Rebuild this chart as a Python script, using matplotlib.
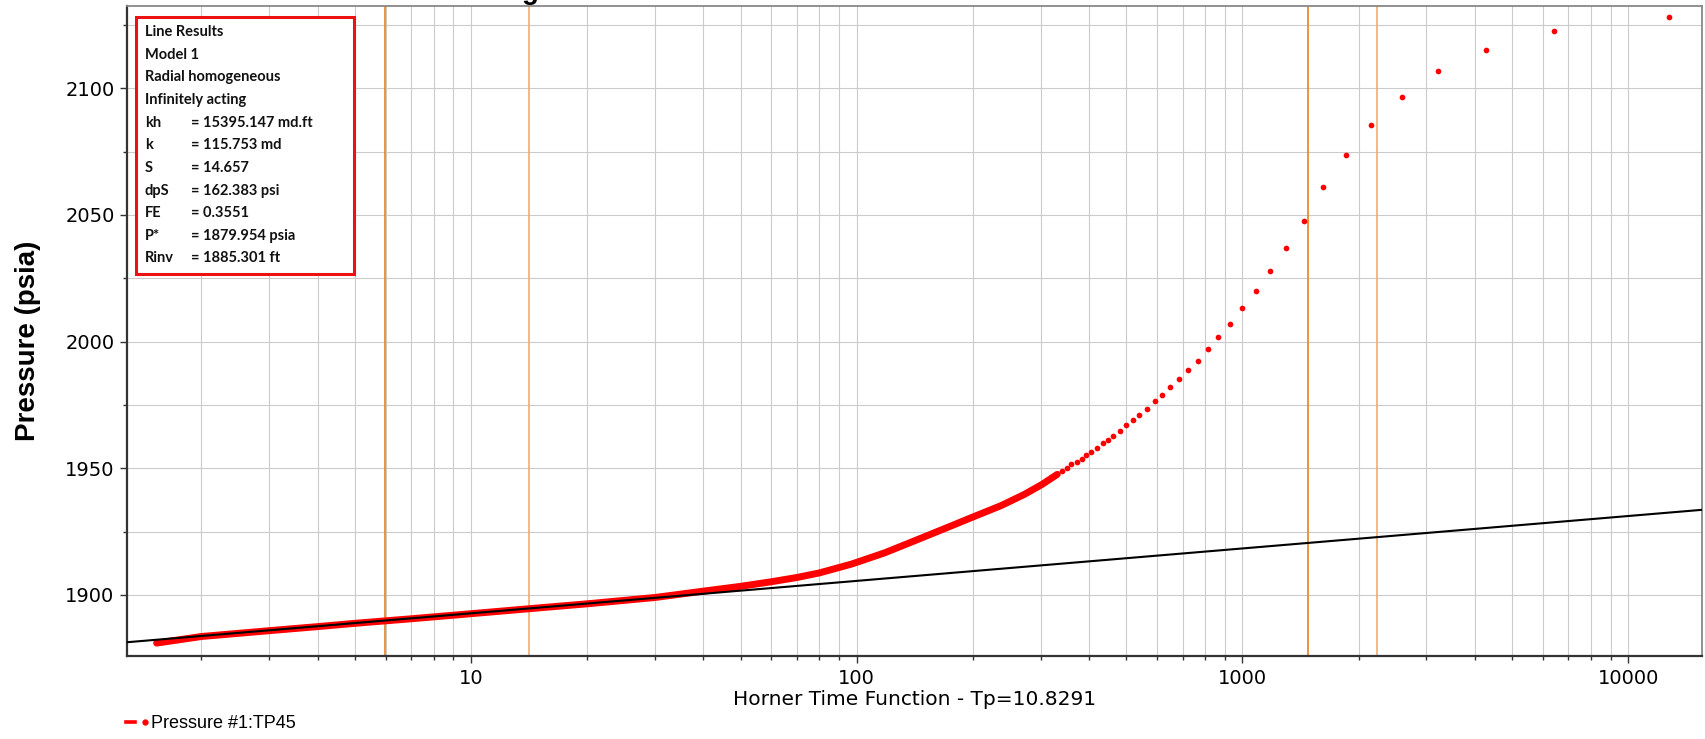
import numpy as np
import matplotlib
matplotlib.use("Agg")
import matplotlib.pyplot as plt
from matplotlib.patches import Rectangle
from matplotlib.lines import Line2D
from matplotlib.legend_handler import HandlerTuple
from matplotlib.ticker import MultipleLocator, LogLocator, NullFormatter, FuncFormatter

# dense early part of the build-up (large dt -> small Horner time)
dense_x = [1.53, 2, 3, 4, 5, 7, 10, 15, 20, 30, 40, 50, 60, 70, 80, 97,
           118, 144, 176, 201, 237, 272, 302, 331]
dense_p = [1881.0, 1883.6, 1885.9, 1887.5, 1888.8, 1890.6, 1892.6, 1894.9,
           1896.5, 1899.0, 1901.5, 1903.4, 1905.2, 1906.9, 1908.7, 1912.2,
           1916.6, 1921.9, 1927.3, 1930.9, 1935.3, 1939.7, 1943.6, 1947.6]

# individual points that can be told apart
sparse_x = [341, 350, 360, 372, 383, 393, 406, 420, 434, 448, 463, 481, 498,
            520, 540, 564, 592, 618, 649, 685, 721, 767, 815, 865, 927, 1000,
            1086, 1182, 1295, 1445, 1621, 1854, 2158, 2591, 3221, 4285, 6412,
            12750]
sparse_p = [1949.1, 1950.1, 1951.6, 1952.6, 1953.8, 1955.1, 1956.5, 1958.0,
            1959.8, 1961.2, 1962.8, 1964.9, 1966.9, 1969.1, 1971.1, 1973.5,
            1976.4, 1978.8, 1982.1, 1985.2, 1988.9, 1992.5, 1997.0, 2001.8,
            2007.1, 2013.2, 2020.0, 2028.0, 2037.0, 2047.5, 2060.9, 2073.5,
            2085.6, 2096.6, 2106.7, 2115.2, 2122.5, 2128.2]

# straight line (Horner fit)
p_star = 1879.954
slope = 12.8
line_x = [1.0, 20000.0]

# cursor lines
cursor_x = [5.97, 14.1, 1475, 2233]
cursor_col = ["#e8831c", "#f4ac68", "#e8831c", "#f4ac68"]

info_head = ["Line Results", "Model 1", "Radial homogeneous", "Infinitely acting"]
info_keys = ["kh", "k", "S", "dpS", "FE", "P*", "Rinv"]
info_vals = ["= 15395.147 md.ft", "= 115.753 md", "= 14.657", "= 162.383 psi",
             "= 0.3551", "= 1879.954 psia", "= 1885.301 ft"]

W, H = 1705, 739
fig = plt.figure(figsize=(W / 100, H / 100), dpi=100)
L, R, T, B = 127, 1702, 5.7, 656
ax = fig.add_axes([L / W, 1 - B / H, (R - L) / W, (B - T) / H])

ax.set_xscale("log")
ax.set_xlim(1.282, 15540)
ax.set_ylim(1875.9, 2132.6)

# grid
ax.yaxis.set_major_locator(MultipleLocator(50))
ax.yaxis.set_minor_locator(MultipleLocator(25))
ax.xaxis.set_major_locator(LogLocator(base=10))
ax.xaxis.set_minor_locator(LogLocator(base=10, subs=np.arange(2, 10)))
ax.xaxis.set_minor_formatter(NullFormatter())
ax.xaxis.set_major_formatter(FuncFormatter(lambda v, p: "%d" % v))
ax.grid(True, which="both", color="#cbcbcb", lw=0.8, zorder=0)
ax.set_axisbelow(True)

for x, c in zip(cursor_x, cursor_col):
    ax.axvline(x, color=c, lw=1.2, zorder=1)

ax.plot(dense_x, dense_p, color="red", lw=5.0, solid_capstyle="round",
        solid_joinstyle="round", zorder=3)
ax.plot(sparse_x, sparse_p, "o", color="red", ms=4.1, mec="none", zorder=3)

line_p = [p_star + slope * np.log10(v) for v in line_x]
ax.plot(line_x, line_p, color="black", lw=1.5, zorder=4)

# spines and ticks
for s in ["left", "bottom"]:
    ax.spines[s].set_color("#333333")
    ax.spines[s].set_linewidth(1.6)
for s in ["top", "right"]:
    ax.spines[s].set_color("#888888")
    ax.spines[s].set_linewidth(1.3)
ax.tick_params(axis="both", which="major", length=5, width=1, color="#333333",
               labelsize=14, pad=4)
ax.tick_params(axis="both", which="minor", length=3, width=1, color="#333333")
ax.tick_params(axis="x", which="both", top=False)
ax.tick_params(axis="y", which="both", right=False)

ax.set_xlabel("Horner Time Function - Tp=10.8291", fontsize=14.5, labelpad=2)
ax.set_ylabel("Pressure (psia)", fontsize=20, fontweight="bold",
              family="Liberation Sans", va="center")
ax.yaxis.set_label_coords((27.5 - L) / (R - L), (B - 341) / (B - T))


def ax_xy(px, py):
    return (px - L) / (R - L), (B - py) / (B - T)


# info box
x0, y1 = ax_xy(135.9, 17.3)
x1, y0 = ax_xy(354, 274)
ax.add_patch(Rectangle((x0, y0), x1 - x0, y1 - y0, transform=ax.transAxes,
                       facecolor="white", edgecolor="#ee1111", lw=2.2, zorder=10))
rows = info_head + info_keys
for i, txt in enumerate(rows):
    tx, ty = ax_xy(144.7, 32.3 + 22.6 * i)
    ax.text(tx, ty, txt, transform=ax.transAxes, va="center", ha="left",
            fontsize=10.5, fontweight="bold", family="Lato", color="#111111", zorder=11)
for i, txt in enumerate(info_vals):
    tx, ty = ax_xy(190.6, 32.3 + 22.6 * (i + len(info_head)))
    ax.text(tx, ty, txt, transform=ax.transAxes, va="center", ha="left",
            fontsize=10.5, fontweight="bold", family="Lato", color="#111111", zorder=11)

# title, cut off at the top edge
fig.text(530 / W, 1 + 1.0 / H, "g", fontsize=20, fontweight="bold",
         family="Liberation Sans", ha="center", va="baseline")

# legend
h = (Line2D([], [], color="red", lw=2.6),
     Line2D([], [], color="red", marker="o", ms=3.5, ls="none"))
fig.legend([h], ["Pressure #1:TP45"], handler_map={tuple: HandlerTuple(ndivide=None, pad=0.25)},
           loc="center left", bbox_to_anchor=(126 / W, 1 - 724 / H), frameon=False,
           borderpad=0, borderaxespad=0, handlelength=1.3, handletextpad=0.1,
           prop={"family": "Liberation Sans", "size": 13})

fig.savefig("out.png", dpi=100)
